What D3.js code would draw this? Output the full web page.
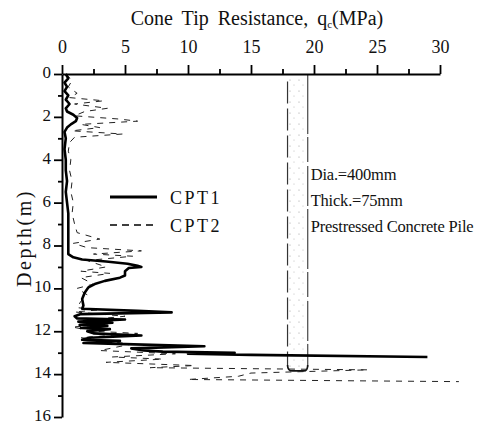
<!DOCTYPE html>
<html>
<head>
<meta charset="utf-8">
<script src="https://cdn.jsdelivr.net/npm/d3@7"></script>
<style>
  body { margin: 0; background: #fff; }
  svg { display: block; }
  text { font-family: "Liberation Serif", "DejaVu Serif", serif; fill: #111; }
</style>
</head>
<body>
<div id="chart"></div>
<script>
// data: depth (m), cone tip resistance qc (MPa)
var cpt1Depth = [0.0, 0.2, 0.4, 0.6, 0.8, 1.0, 1.2, 1.4, 1.6, 1.75, 1.9, 2.05, 2.2, 2.35, 2.5, 2.7,
  3.0, 3.5, 4.0, 4.5, 5.0, 5.5, 6.0, 6.5, 7.0, 7.5, 8.0, 8.4, 8.55, 8.65, 8.75, 8.85, 8.95, 9.0,
  9.05, 9.2, 9.4, 9.5, 9.65, 9.8, 9.95, 10.2, 10.5, 10.8, 10.95, 11.05, 11.12, 11.2, 11.3, 11.4,
  11.45, 11.55, 11.6, 11.7, 11.75, 11.85, 11.9, 12.0, 12.1, 12.2, 12.3, 12.4, 12.45, 12.55, 12.6,
  12.7, 12.8, 12.9, 12.95, 13.0, 13.05, 13.1, 13.2];
var cpt1Qc = [0.3, 0.5, 0.2, 0.4, 0.2, 0.5, 0.3, 0.6, 0.3, 0.4, 0.9, 1.2, 1.1, 0.7, 0.4, 0.2,
  0.3, 0.2, 0.3, 0.3, 0.4, 0.3, 0.4, 0.5, 0.5, 0.5, 0.5, 0.5, 0.9, 1.6, 3.5, 5.2, 6.0, 6.3,
  5.3, 5.0, 5.0, 4.6, 3.4, 2.6, 2.1, 1.8, 1.6, 1.7, 1.6, 6.0, 8.7, 1.5, 1.0, 1.2,
  5.0, 1.3, 4.0, 1.4, 3.6, 1.5, 3.8, 2.0, 2.5, 6.3, 2.2, 1.6, 4.6, 1.7, 5.0,
  11.3, 5.5, 6.5, 8.0, 13.7, 10.0, 15.0, 29.0];

var cpt2Depth = [0.0, 0.3, 0.6, 0.9, 1.1, 1.25, 1.4, 1.6, 1.75, 1.95, 2.1, 2.2, 2.35, 2.5, 2.65,
  2.8, 2.95, 3.2, 3.6, 4.0, 4.5, 5.0, 5.5, 6.0, 6.5, 7.0, 7.4, 7.7, 7.9, 8.1, 8.25, 8.4, 8.5,
  8.7, 9.0, 9.2, 9.3, 9.5, 9.8, 10.0, 10.3, 10.6, 10.9, 11.0, 11.1, 11.3, 11.5, 11.7, 11.8,
  12.0, 12.1, 12.3, 12.6, 12.9, 13.05, 13.2, 13.3, 13.45, 13.6, 13.7, 13.8, 13.95, 14.1, 14.25, 14.35];
var cpt2Qc = [0.3, 0.8, 0.5, 1.2, 0.6, 3.3, 1.0, 3.6, 1.8, 1.0, 4.5, 6.0, 1.5, 3.0, 0.8,
  4.8, 1.0, 0.6, 0.5, 0.7, 0.6, 0.8, 0.7, 0.9, 0.8, 1.0, 1.2, 3.0, 0.9, 2.0, 6.3, 2.5, 5.6,
  2.0, 3.5, 1.5, 3.8, 1.5, 2.5, 1.2, 2.0, 1.5, 1.2, 3.0, 1.0, 5.0, 1.5, 3.5, 0.8,
  2.5, 6.0, 1.5, 5.5, 3.0, 9.0, 4.0, 8.0, 3.5, 10.5, 7.0, 24.3, 15.0, 14.0, 10.0, 31.5];

var qcTicks = [0, 5, 10, 15, 20, 25, 30];
var qcMinor = [2.5, 7.5, 12.5, 17.5, 22.5, 27.5];
var depthTicks = [0, 2, 4, 6, 8, 10, 12, 14, 16];
var depthMinor = [1, 3, 5, 7, 9, 11, 13, 15];

var pileQc = [17.9, 19.5];
var pileBottom = 13.85;
var pileNotes = ["Dia.=400mm", "Thick.=75mm", "Prestressed Concrete Pile"];
var seriesNames = ["CPT1", "CPT2"];

var width = 483, height = 425;

var svg = d3.select("#chart").append("svg")
    .attr("width", width)
    .attr("height", height);

var x = d3.scaleLinear().domain([0, 30]).range([62, 440]);
var y = d3.scaleLinear().domain([0, 16]).range([74, 417]);

// dotted fill for the pile
var defs = svg.append("defs");
var pat = defs.append("pattern")
    .attr("id", "dots")
    .attr("patternUnits", "userSpaceOnUse")
    .attr("width", 9).attr("height", 11);
pat.append("circle").attr("cx", 2).attr("cy", 3).attr("r", 0.6).attr("fill", "#999");
pat.append("circle").attr("cx", 6).attr("cy", 8).attr("r", 0.5).attr("fill", "#aaa");

// pile
var pile = svg.append("g");
pile.append("rect")
    .attr("x", x(pileQc[0]))
    .attr("y", y(0))
    .attr("width", x(pileQc[1]) - x(pileQc[0]))
    .attr("height", y(pileBottom) - y(0))
    .attr("fill", "url(#dots)");
pile.append("line")
    .attr("x1", x(pileQc[0])).attr("x2", x(pileQc[0]))
    .attr("y1", y(0.35)).attr("y2", y(pileBottom) - 4)
    .attr("stroke", "#333").attr("stroke-width", 1.2)
    .attr("stroke-dasharray", "22,5");
pile.append("line")
    .attr("x1", x(pileQc[1])).attr("x2", x(pileQc[1]))
    .attr("y1", y(0)).attr("y2", y(pileBottom) - 4)
    .attr("stroke", "#555").attr("stroke-width", 1.3)
    .attr("stroke-dasharray", "60,3,25,4,40,3");
pile.append("path")
    .attr("d", "M" + x(pileQc[0]) + "," + (y(pileBottom) - 6) +
      " Q" + x(pileQc[0]) + "," + y(pileBottom) + " " + (x(pileQc[0]) + 5) + "," + y(pileBottom) +
      " L" + (x(pileQc[1]) - 4) + "," + y(pileBottom) +
      " Q" + x(pileQc[1]) + "," + y(pileBottom) + " " + x(pileQc[1]) + "," + (y(pileBottom) - 6))
    .attr("fill", "none").attr("stroke", "#111").attr("stroke-width", 1.6);

pile.selectAll("text.note")
  .data(pileNotes)
  .enter().append("text")
    .attr("class", "note")
    .attr("x", x(pileQc[1]) + 3)
    .attr("y", function(d, i) { return 180 + i * 26; })
    .attr("font-size", 16.5)
    .attr("letter-spacing", -0.2)
    .text(function(d) { return d; });

// series lines
var line = d3.line()
    .x(function(d) { return x(d[1]); })
    .y(function(d) { return y(d[0]); });

svg.append("path")
    .datum(d3.zip(cpt2Depth, cpt2Qc))
    .attr("d", line)
    .attr("fill", "none")
    .attr("stroke", "#222")
    .attr("stroke-width", 1)
    .attr("stroke-dasharray", "6,6");

svg.append("path")
    .datum(d3.zip(cpt1Depth, cpt1Qc))
    .attr("d", line)
    .attr("fill", "none")
    .attr("stroke", "#000")
    .attr("stroke-width", 2.6)
    .attr("stroke-linejoin", "round");

// top axis
var topAxis = svg.append("g").attr("transform", "translate(0," + y(0) + ")");
topAxis.call(d3.axisTop(x).tickValues(qcTicks).tickSize(9).tickSizeOuter(0).tickFormat(d3.format("d")));
topAxis.append("g").call(d3.axisTop(x).tickValues(qcMinor).tickSize(5).tickSizeOuter(0).tickFormat(""))
  .select(".domain").remove();
topAxis.selectAll(".domain").attr("stroke", "#000").attr("stroke-width", 2);
topAxis.selectAll(".tick line").attr("stroke", "#000").attr("stroke-width", 1.8);
topAxis.selectAll(".tick text")
    .attr("font-family", "Liberation Serif, serif")
    .attr("font-size", 18)
    .attr("fill", "#111")
    .attr("y", -21);

// left axis
var leftAxis = svg.append("g").attr("transform", "translate(" + x(0) + ",0)");
leftAxis.call(d3.axisLeft(y).tickValues(depthTicks).tickSize(8).tickSizeOuter(0).tickFormat(d3.format("d")));
leftAxis.append("g").call(d3.axisLeft(y).tickValues(depthMinor).tickSize(4).tickSizeOuter(0).tickFormat(""))
  .select(".domain").remove();
leftAxis.selectAll(".domain").attr("stroke", "#000").attr("stroke-width", 2);
leftAxis.selectAll(".tick line").attr("stroke", "#000").attr("stroke-width", 1.8);
leftAxis.selectAll(".tick text")
    .attr("font-family", "Liberation Serif, serif")
    .attr("font-size", 17)
    .attr("fill", "#111")
    .attr("x", -11)
    .attr("dy", "0.2em");

// axis titles
svg.append("text")
    .attr("x", 257)
    .attr("y", 25)
    .attr("text-anchor", "middle")
    .attr("font-size", 20)
    .attr("word-spacing", 4)
    .html("Cone Tip Resistance, q<tspan font-size='11' dy='3'>c</tspan><tspan dy='-3'>(MPa)</tspan>");

svg.append("text")
    .attr("transform", "translate(31,238) rotate(-90)")
    .attr("text-anchor", "middle")
    .attr("font-size", 20)
    .attr("letter-spacing", 2.5)
    .text("Depth(m)");

// legend
var legend = svg.append("g");
legend.selectAll("line")
  .data(seriesNames)
  .enter().append("line")
    .attr("x1", 110).attr("x2", 157)
    .attr("y1", function(d, i) { return 197 + i * 28; })
    .attr("y2", function(d, i) { return 197 + i * 28; })
    .attr("stroke", "#000")
    .attr("stroke-width", function(d, i) { return i === 0 ? 2.8 : 1.6; })
    .attr("stroke-dasharray", function(d, i) { return i === 0 ? null : "7,5"; });
legend.selectAll("text")
  .data(seriesNames)
  .enter().append("text")
    .attr("x", 170)
    .attr("y", function(d, i) { return 204 + i * 28; })
    .attr("font-size", 18)
    .attr("letter-spacing", 2.5)
    .text(function(d) { return d; });
</script>
</body>
</html>
